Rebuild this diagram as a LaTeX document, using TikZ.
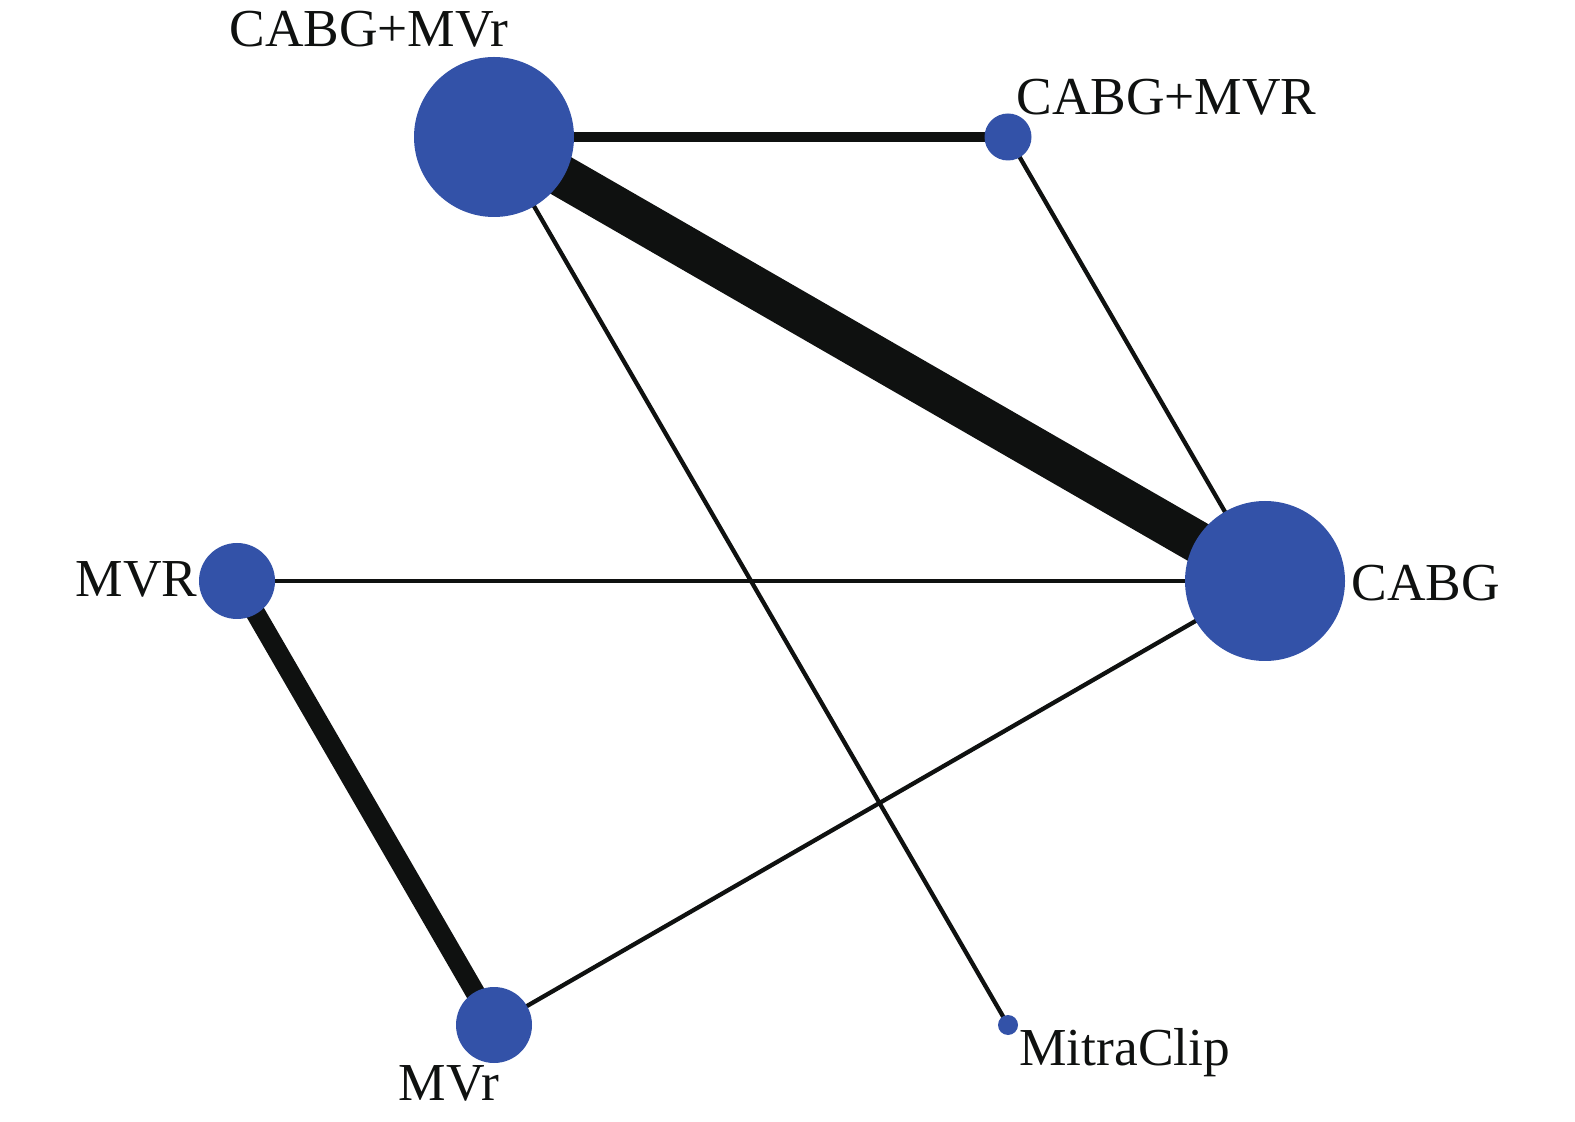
\documentclass[tikz,border=0pt]{standalone}
\usepackage{fontspec}
\setmainfont{Liberation Serif}
\pgfdeclarelayer{bg}
\pgfsetlayers{bg,main}
\definecolor{nodeblue}{HTML}{3352A8}
\definecolor{edgeblack}{HTML}{0F1110}
\begin{document}
\begin{tikzpicture}[x=0.5pt,y=-0.5pt,
  trt/.style={circle,fill=nodeblue,draw=none,inner sep=0pt,minimum size=#1},
  lbl/.style={font=\fontsize{26.7}{30}\selectfont,text=edgeblack,inner sep=0pt},
  edge/.style={draw=edgeblack,line width=#1}]
\useasboundingbox (0,0) rectangle (1575,1122);
% treatments (diameters in pt = px/2)
\node[trt=80pt] (cmvr) at (494,137) {};
\node[trt=23.5pt] (cMVR) at (1008,137) {};
\node[trt=80pt] (cabg) at (1265,581) {};
\node[trt=38pt] (MVR) at (237,581) {};
\node[trt=38pt] (mvr) at (494,1025) {};
\node[trt=10pt] (mc) at (1008,1025) {};
% labels
\node[lbl,anchor=base east] (lcmvr) at (509,47) {CABG+MVr};
\node[lbl,anchor=base west] (lcMVR) at (1016,115) {CABG+MVR};
\node[lbl,anchor=base west] (lcabg) at (1351,601) {CABG};
\node[lbl,anchor=base east] (lMVR) at (198,597) {MVR};
\node[lbl,anchor=base] (lmvr) at (449,1100) {MVr};
\node[lbl,anchor=base west] (lmc) at (1019,1065) {MitraClip};
% comparisons
\begin{pgfonlayer}{bg}
\draw[edge=2.15pt] (cmvr.center) -- (mc.center);
\draw[edge=2.15pt] (cMVR.center) -- (cabg.center);
\draw[edge=2.15pt] (MVR.center) -- (cabg.center);
\draw[edge=2.15pt] (mvr.center) -- (cabg.center);
\draw[edge=5.4pt] (cmvr.center) -- (cMVR.center);
\draw[edge=9.8pt] (MVR.center) -- (mvr.center);
\draw[edge=21pt] (cmvr.center) -- (cabg.center);
\end{pgfonlayer}
\end{tikzpicture}
\end{document}
